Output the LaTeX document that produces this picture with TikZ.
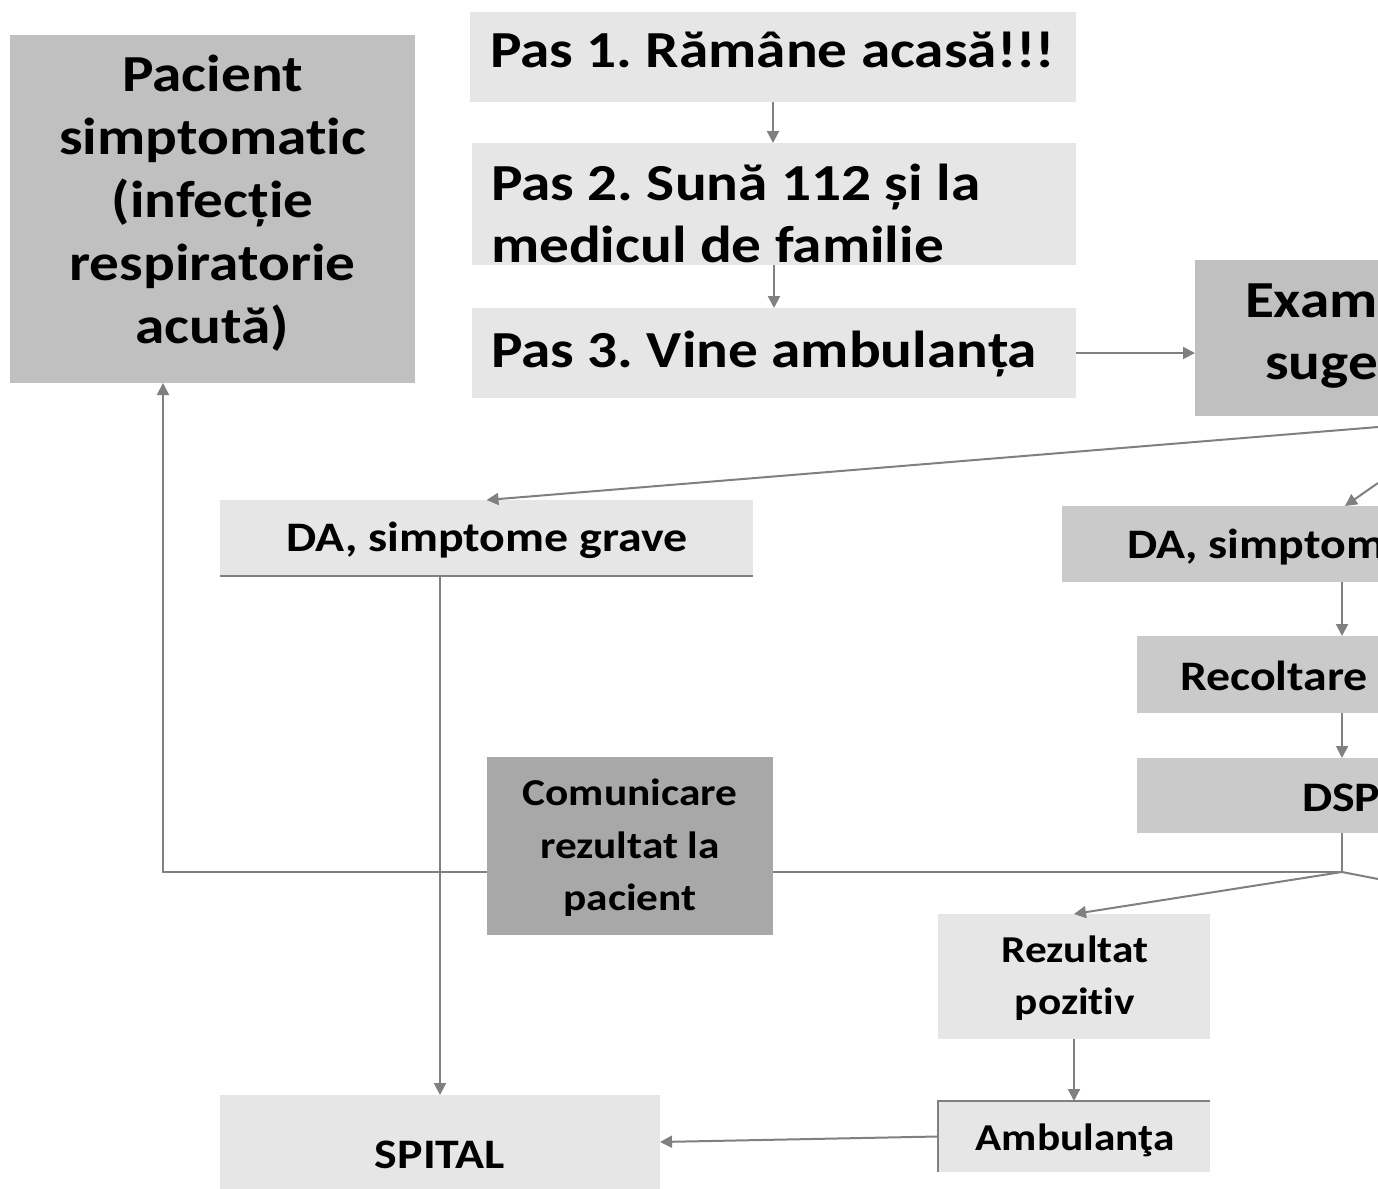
\documentclass[tikz,border=0pt]{standalone}
\usepackage{fontspec}
\setmainfont{Carlito}[FakeStretch=1.14, Ligatures=NoCommon]
\frenchspacing
\usetikzlibrary{arrows.meta}
\definecolor{cdark}{HTML}{A8A8A8}
\definecolor{cmid}{HTML}{C0C0C0}
\definecolor{cmidb}{HTML}{CACACA}
\definecolor{clight}{HTML}{E6E6E6}
\definecolor{cline}{HTML}{808080}
\begin{document}
\begin{tikzpicture}[x=0.5pt,y=-0.5pt,
  box/.style={rectangle, inner sep=0pt, outer sep=0pt, draw=none},
  big/.style={inner sep=0pt, outer sep=0pt, font=\bfseries\fontsize{26pt}{31.5pt}\selectfont},
  mid/.style={inner sep=0pt, outer sep=0pt, font=\bfseries\fontsize{21pt}{26pt}\selectfont},
  small/.style={inner sep=0pt, outer sep=0pt, align=center, font=\bfseries\fontsize{19pt}{26.3pt}\selectfont},
  conn/.style={draw=cline, line width=1pt, -{Triangle[length=6pt,width=6pt]}},
  plain/.style={draw=cline, line width=1pt},
  rim/.style={draw=cline, line width=0.8pt}]
\useasboundingbox (0,0) rectangle (1378,1189);
\clip (0,0) rectangle (1378,1189);
\fill[white] (0,0) rectangle (1378,1189);

% boxes
\node[box, fill=cmid, minimum width=202.5pt, minimum height=174pt] (pac) at (212.5,209) {};
\node[box, fill=clight, minimum width=303pt, minimum height=45pt] (p1) at (773,57) {};
\node[box, fill=clight, minimum width=302pt, minimum height=61pt] (p2) at (774,204) {};
\node[box, fill=clight, minimum width=302pt, minimum height=45pt] (p3) at (774,353) {};
\node[box, fill=cmid, minimum width=91.5pt, minimum height=78pt] (exam) at (1286.5,338) {};
\node[box, fill=clight, minimum width=266.5pt, minimum height=38pt] (dag) at (486.5,538) {};
\node[box, fill=cmidb, minimum width=158pt, minimum height=38pt] (das) at (1220,544) {};
\node[box, fill=cmidb, minimum width=120.5pt, minimum height=38.5pt] (rec) at (1257.5,674.5) {};
\node[box, fill=cmidb, minimum width=120.5pt, minimum height=37.5pt] (dsp) at (1257.5,795.5) {};
\node[box, fill=clight, minimum width=136pt, minimum height=62.5pt] (rez) at (1074,976.5) {};
\node[box, fill=clight, minimum width=136pt, minimum height=35.5pt] (amb) at (1074,1136.5) {};
\node[box, fill=clight, minimum width=220pt, minimum height=47pt] (spi) at (440,1142) {};

% rims
\draw[rim] (dag.south west) -- (dag.south east);
\draw[rim] (amb.south west) -- (amb.north west) -- (amb.north east);

% free ends and junctions
\coordinate (col) at (1342,0);
\coordinate (exoutA) at (1378,427);
\coordinate (exoutB) at (1378,483);
\coordinate (dastip) at (1345,506);
\coordinate (junc) at (1342,872);
\coordinate (negout) at (1378,879);
\coordinate (corner) at (163,872);
\coordinate (midret) at (700,872);

% connectors
\draw[conn] (p1.south) -- (p1.south |- p2.north);
\draw[conn] (p2.south) -- (p2.south |- p3.north);
\draw[conn] (p3.east) -- (p3.east -| exam.west);
\draw[conn] (exoutA) -- (dag.north);
\draw[conn] (exoutB) -- (dastip);
\draw[conn] (das.south -| col) -- (rec.north -| col);
\draw[conn] (rec.south -| col) -- (dsp.north -| col);
\draw[plain] (dsp.south -| col) -- (junc);
\draw[plain] (junc) -- (negout);
\draw[conn] (junc) -- (rez.north);
\draw[conn] (rez.south) -- (amb.north);
\draw[conn] (amb.west) -- (spi.east);
\draw[conn] (spi.north |- dag.south) -- (spi.north);
\draw[plain] (junc) -- (midret);
\draw[conn] (midret) -- (corner) -- (corner |- pac.south);

% communication box on top of the return line
\node[box, fill=cdark, minimum width=143pt, minimum height=89pt] (com) at (630,846) {};

% texts
\node[big, align=center] (tpac) at (212.5,203) {Pacient\\simptomatic\\(infecție\\respiratorie\\acută)};
\node[big, anchor=base west] (tp1) at (490,67) {Pas 1. Rămâne acasă!!!};
\node[big, anchor=base west] (tp2a) at (491,200) {Pas 2. Sună 112 și la};
\node[big, anchor=base west] (tp2b) at (491,262) {medicul de familie};
\node[big, anchor=base west] (tp3) at (491,367) {Pas 3. Vine ambulanța};
\node[big, anchor=base west] (tex1) at (1245,317) {Exam};
\node[big, anchor=base west] (tex2) at (1265,379) {suge};
\node[mid, anchor=base] (tdag) at (487,551) {DA, simptome grave};
\node[mid, anchor=base west] (tdas) at (1127,558) {DA, simptom};
\node[mid, anchor=base west] (trec) at (1180,690) {Recoltare};
\node[mid, anchor=base west] (tdsp) at (1302,811) {DSP};
\node[small] (tcom) at (630,848) {Comunicare\\rezultat la\\pacient};
\node[small] (trez) at (1075,978) {Rezultat\\pozitiv};
\node[small, anchor=base] (tamb) at (1075,1150) {Ambulanţa};
\node[mid, anchor=base] (tspi) at (440,1168) {SPITAL};
\end{tikzpicture}
\end{document}
